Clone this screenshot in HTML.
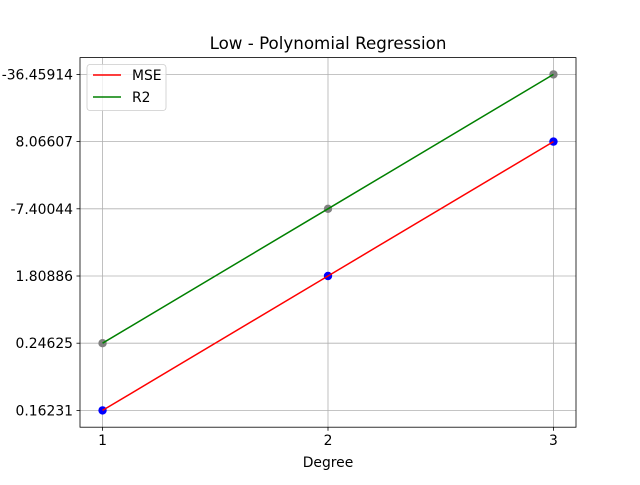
<!DOCTYPE html>
<html><head><meta charset="utf-8"><style>
body{margin:0;background:#fff;font-family:"Liberation Sans","DejaVu Sans",sans-serif}
text{font-family:"DejaVu Sans","Liberation Sans",sans-serif}
</style></head><body>
<svg id="c" width="640" height="480" xmlns="http://www.w3.org/2000/svg">
<rect width="640" height="480" fill="#fff"/>
<g id="grid"></g><g id="points"></g><g id="series"></g><g id="axes"></g>
</svg>
<script>
const categories=["0.16231","0.24625","1.80886","-7.40044","8.06607","-36.45914"];
const degrees=[1,2,3];
const mseValues=["0.16231","1.80886","8.06607"];
const r2Values=["0.24625","-7.40044","-36.45914"];
const L=80,R=576,T=57.6,B=427.2;
const xMin=0.9,xMax=3.1;
const yMin=-0.25,yMax=categories.length-0.75;
const X=v=>L+(v-xMin)/(xMax-xMin)*(R-L);
const Y=s=>{const i=categories.indexOf(s);return B-(i-yMin)/(yMax-yMin)*(B-T);};
const NS="http://www.w3.org/2000/svg";
function mk(p,tag,a){const e=document.createElementNS(NS,tag);for(const k in a)e.setAttribute(k,a[k]);p.appendChild(e);return e;}
const grid=document.getElementById('grid'),ser=document.getElementById('series'),pts=document.getElementById('points'),ax=document.getElementById('axes');
degrees.forEach(d=>{const x=X(d);
const g=mk(grid,'line',{x1:x,x2:x,y1:T,y2:B,stroke:'#b0b0b0','stroke-width':0.8});

mk(ax,'line',{x1:x,x2:x,y1:B,y2:B+3.5,stroke:'#000','stroke-width':0.8});
const t=mk(ax,'text',{x:x,y:B+18,'text-anchor':'middle','font-size':13.9});t.textContent=d;
});
categories.forEach(c=>{const y=Y(c);
const g=mk(grid,'line',{x1:L,x2:R,y1:y,y2:y,stroke:'#b0b0b0','stroke-width':0.8});

mk(ax,'line',{x1:L-3.5,x2:L,y1:y,y2:y,stroke:'#000','stroke-width':0.8});
const t=mk(ax,'text',{x:L-7,y:y+5,'text-anchor':'end','font-size':13.9});t.textContent=c;
});
function series(vals,color,dot,name){
const p=vals.map((v,i)=>X(degrees[i])+','+Y(v)).join(' ');
const pl=mk(ser,'polyline',{points:p,fill:'none',stroke:color,'stroke-width':1.5});

vals.forEach((v,i)=>{const c=mk(pts,'circle',{cx:X(degrees[i]),cy:Y(v),r:4.2,fill:dot});
});}
series(mseValues,'#ff0000','#0000ff','mse');
series(r2Values,'#008000','#808080','r2');
const fr=mk(ax,'rect',{x:L,y:T,width:R-L,height:B-T,fill:'none',stroke:'#000','stroke-width':0.8});

const ti=mk(ax,'text',{x:(L+R)/2,y:49,'text-anchor':'middle','font-size':16.7});ti.textContent='Low - Polynomial Regression';

const xl=mk(ax,'text',{x:(L+R)/2,y:467,'text-anchor':'middle','font-size':13.9});xl.textContent='Degree';

const lg=mk(ax,'g',{});
mk(lg,'rect',{x:87,y:64.5,width:79,height:46,rx:3,fill:'#fff','fill-opacity':0.8,stroke:'#ccc','stroke-width':0.8});
[['MSE','#ff0000',75],['R2','#008000',97]].forEach(([n,c,y])=>{
const e=mk(lg,'g',{});
mk(e,'line',{x1:93,x2:121,y1:y,y2:y,stroke:c,'stroke-width':1.5});
const t=mk(e,'text',{x:132,y:y+5,'font-size':13.9});t.textContent=n;});
</script>
</body></html>
